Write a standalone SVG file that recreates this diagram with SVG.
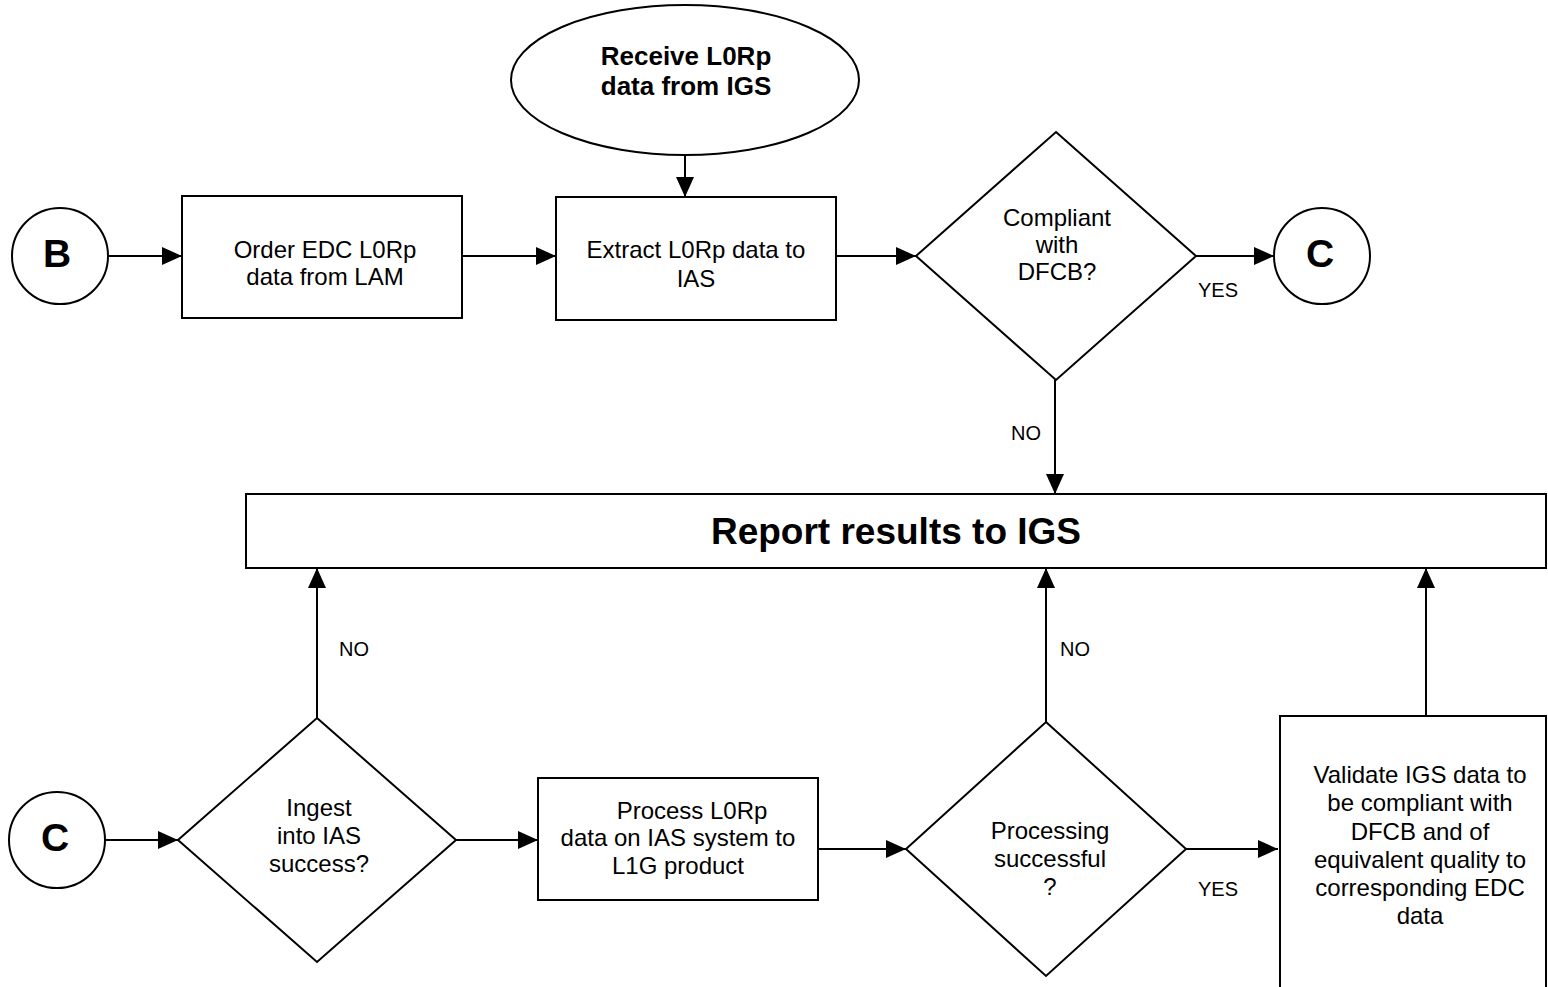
<svg xmlns="http://www.w3.org/2000/svg" width="1548" height="987" viewBox="0 0 1548 987">
<style>
.s{fill:#fff;stroke:#000;stroke-width:2}
.t{font-family:"Liberation Sans",Arial,sans-serif;font-size:24px;fill:#000;text-anchor:middle}
.b{font-weight:bold}
.k{font-size:39px}
.l{font-family:"Liberation Sans",Arial,sans-serif;font-size:20px;fill:#000;text-anchor:middle}
.c{stroke:#000;stroke-width:2;fill:none;marker-end:url(#ah)}
</style>
<defs>
<marker id="ah" viewBox="0 0 20 18" refX="20" refY="9" markerWidth="20" markerHeight="18" markerUnits="userSpaceOnUse" orient="auto">
<path d="M0,0 L20,9 L0,18 z" fill="#000"/>
</marker>
</defs>
<rect width="1548" height="987" fill="#fff"/>
<g id="connectors">
<line class="c" x1="108" y1="256" x2="182" y2="256"/>
<line class="c" x1="462" y1="256" x2="556" y2="256"/>
<line class="c" x1="685" y1="155" x2="685" y2="197"/>
<line class="c" x1="836" y1="256" x2="916" y2="256"/>
<line class="c" x1="1196" y1="256" x2="1274" y2="256"/>
<line class="c" x1="1055" y1="380" x2="1055" y2="494"/>
<line class="c" x1="105" y1="840" x2="178" y2="840"/>
<line class="c" x1="456" y1="840" x2="538" y2="840"/>
<line class="c" x1="818" y1="849" x2="906" y2="849"/>
<line class="c" x1="1186" y1="849" x2="1278" y2="849"/>
<line class="c" x1="317" y1="718" x2="317" y2="568"/>
<line class="c" x1="1046" y1="722" x2="1046" y2="568"/>
<line class="c" x1="1426" y1="716" x2="1426" y2="568"/>
<text class="l" x="1218" y="297">YES</text>
<text class="l" x="1026" y="440">NO</text>
<text class="l" x="354" y="656">NO</text>
<text class="l" x="1075" y="656">NO</text>
<text class="l" x="1218" y="896">YES</text>
</g>
<g id="nodeB">
<circle class="s" cx="60" cy="256" r="48"/>
<text class="t b k" x="57" y="267">B</text>
</g>
<g id="order">
<rect class="s" x="182" y="196" width="280" height="122"/>
<text class="t" x="325" y="258">Order EDC L0Rp</text>
<text class="t" x="325" y="285">data from LAM</text>
</g>
<g id="receive">
<ellipse class="s" cx="685" cy="80" rx="174" ry="75"/>
<text class="t b" x="686" y="65" style="font-size:26px">Receive L0Rp</text>
<text class="t b" x="686" y="95" style="font-size:26px">data from IGS</text>
</g>
<g id="extract">
<rect class="s" x="556" y="197" width="280" height="123"/>
<text class="t" x="696" y="258">Extract L0Rp data to</text>
<text class="t" x="696" y="287">IAS</text>
</g>
<g id="compliant">
<polygon class="s" points="1056,132 1196,256 1056,380 916,256"/>
<text class="t" x="1057" y="226">Compliant</text>
<text class="t" x="1057" y="253">with</text>
<text class="t" x="1057" y="280">DFCB?</text>
</g>
<g id="nodeC1">
<circle class="s" cx="1322" cy="256" r="48"/>
<text class="t b k" x="1320" y="267">C</text>
</g>
<g id="report">
<rect class="s" x="246" y="494" width="1300" height="74"/>
<text class="t b" x="896" y="544" style="font-size:37px">Report results to IGS</text>
</g>
<g id="nodeC2">
<circle class="s" cx="57" cy="840" r="48"/>
<text class="t b k" x="55" y="851">C</text>
</g>
<g id="ingest">
<polygon class="s" points="317,718 456,840 317,962 178,840"/>
<text class="t" x="319" y="816">Ingest</text>
<text class="t" x="319" y="844">into IAS</text>
<text class="t" x="319" y="872">success?</text>
</g>
<g id="process">
<rect class="s" x="538" y="778" width="280" height="122"/>
<text class="t" x="692" y="819">Process L0Rp</text>
<text class="t" x="678" y="846">data on IAS system to</text>
<text class="t" x="678" y="874">L1G product</text>
</g>
<g id="processing">
<polygon class="s" points="1046,722 1186,849 1046,976 906,849"/>
<text class="t" x="1050" y="839">Processing</text>
<text class="t" x="1050" y="867">successful</text>
<text class="t" x="1050" y="895">?</text>
</g>
<g id="validate">
<rect class="s" x="1280" y="716" width="266" height="290"/>
<text class="t" x="1420" y="783">Validate IGS data to</text>
<text class="t" x="1420" y="811">be compliant with</text>
<text class="t" x="1420" y="840">DFCB and of</text>
<text class="t" x="1420" y="868">equivalent quality to</text>
<text class="t" x="1420" y="896">corresponding EDC</text>
<text class="t" x="1420" y="924">data</text>
</g>
</svg>
